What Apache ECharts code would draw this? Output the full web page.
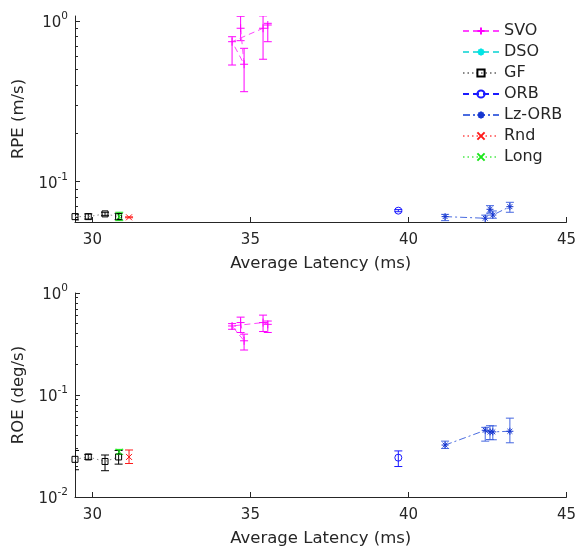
<!DOCTYPE html>
<html><head><meta charset="utf-8">
<script src="https://cdn.jsdelivr.net/npm/echarts@6/dist/echarts.min.js"></script>
<style>html,body{margin:0;padding:0;background:#fff}#c{width:579px;height:548px}</style>
</head><body><div id="c"></div>
<script>
// ---------- data ----------
const xTicks = [30, 35, 40, 45];
const yMajorTop = [0.1, 1];
const yMinorTop = [0.06, 0.07, 0.08, 0.09, 0.2, 0.3, 0.4, 0.5, 0.6, 0.7, 0.8, 0.9];
const yMajorBottom = [0.01, 0.1, 1];
const yMinorBottom = [0.02, 0.03, 0.04, 0.05, 0.06, 0.07, 0.08, 0.09, 0.2, 0.3, 0.4, 0.5, 0.6, 0.7, 0.8, 0.9];

const methods = ['SVO', 'DSO', 'GF', 'ORB', 'Lz-ORB', 'Rnd', 'Long'];

const svoLatency = [34.69, 34.80, 34.42, 35.40, 35.55];
const svoRPE     = [0.901, 0.538, 0.743, 0.901, 0.944];
const svoRPELow  = [0.754, 0.363, 0.532, 0.578, 0.743];
const svoRPEHigh = [1.07, 0.676, 0.798, 1.075, 0.967];
const svoROE     = [0.513, 0.340, 0.475, 0.513, 0.493];
const svoROELow  = [0.410, 0.276, 0.441, 0.419, 0.410];
const svoROEHigh = [0.580, 0.395, 0.501, 0.607, 0.531];

const dsoLatency = [];
const dsoRPE = [], dsoRPELow = [], dsoRPEHigh = [];
const dsoROE = [], dsoROELow = [], dsoROEHigh = [];

const gfLatency = [29.45, 29.87, 30.40, 30.83];
const gfRPE     = [0.0606, 0.0606, 0.0630, 0.0606];
const gfRPELow  = [0.0578, 0.0585, 0.0614, 0.0580];
const gfRPEHigh = [0.0628, 0.0630, 0.0645, 0.0635];
const gfROE     = [0.0234, 0.0247, 0.0223, 0.0247];
const gfROELow  = [0.0185, 0.0234, 0.0181, 0.0210];
const gfROEHigh = [0.0286, 0.0262, 0.0258, 0.0286];

const orbLatency = [39.68];
const orbRPE     = [0.0660];
const orbRPELow  = [0.0650];
const orbRPEHigh = [0.0670];
const orbROE     = [0.0243];
const orbROELow  = [0.0199];
const orbROEHigh = [0.0283];

const lzLatency = [41.16, 42.43, 42.58, 42.67, 43.21];
const lzRPE     = [0.0606, 0.0592, 0.0673, 0.0620, 0.0699];
const lzRPELow  = [0.0572, 0.0556, 0.0637, 0.0592, 0.0645];
const lzRPEHigh = [0.0626, 0.0619, 0.0709, 0.0657, 0.0744];
const lzROE     = [0.0323, 0.0451, 0.0435, 0.0435, 0.0441];
const lzROELow  = [0.0299, 0.0353, 0.0366, 0.0364, 0.0340];
const lzROEHigh = [0.0353, 0.0482, 0.0500, 0.0498, 0.0593];

const rndLatency = [31.16];
const rndRPE     = [0.0600];
const rndRPELow  = [0.0596];
const rndRPEHigh = [0.0604];
const rndROE     = [0.0247];
const rndROELow  = [0.0213];
const rndROEHigh = [0.0289];

const longLatency = [30.85];
const longRPE     = [0.0606];
const longRPELow  = [0.0572];
const longRPEHigh = [0.0645];
const longROE     = [0.0278];
const longROELow  = [0.0262];
const longROEHigh = [0.0293];

// ---------- styling ----------
const FONT = 'DejaVu Sans';
const TXT = '#262626';
const SYM_PLUS = 'path://M5,0L5,10M0,5L10,5';
const SYM_STAR = 'path://M5,0L5,10M0,5L10,5M1.5,1.5L8.5,8.5M8.5,1.5L1.5,8.5';
const SYM_X = 'path://M0,0L10,10M10,0L0,10';

const styles = {
  'SVO':    {color: '#ff00ff', line: '#ff44ff', dash: [6, 4], sym: SYM_PLUS, size: 8},
  'DSO':    {color: '#00e5e5', line: '#44dddd', dash: [6, 4], sym: SYM_STAR, size: 8},
  'GF':     {color: '#000000', line: '#888888', dash: [1.5, 3], sym: 'rect', size: 6},
  'ORB':    {color: '#1a1aff', line: '#1a1aff', dash: [6, 4], sym: 'circle', size: 7},
  'Lz-ORB': {color: '#1636d0', line: '#4a6ce0', dash: [7, 3, 2, 3], sym: SYM_STAR, size: 7, err: '#4466e0'},
  'Rnd':    {color: '#ff1a1a', line: '#ff7777', dash: [1.5, 3], sym: SYM_X, size: 6},
  'Long':   {color: '#1ae61a', line: '#77ee77', dash: [1.5, 3], sym: SYM_X, size: 6}
};

const topData = {
  'SVO': [svoLatency, svoRPE, svoRPELow, svoRPEHigh],
  'DSO': [dsoLatency, dsoRPE, dsoRPELow, dsoRPEHigh],
  'GF': [gfLatency, gfRPE, gfRPELow, gfRPEHigh],
  'ORB': [orbLatency, orbRPE, orbRPELow, orbRPEHigh],
  'Lz-ORB': [lzLatency, lzRPE, lzRPELow, lzRPEHigh],
  'Rnd': [rndLatency, rndRPE, rndRPELow, rndRPEHigh],
  'Long': [longLatency, longRPE, longRPELow, longRPEHigh]
};
const bottomData = {
  'SVO': [svoLatency, svoROE, svoROELow, svoROEHigh],
  'DSO': [dsoLatency, dsoROE, dsoROELow, dsoROEHigh],
  'GF': [gfLatency, gfROE, gfROELow, gfROEHigh],
  'ORB': [orbLatency, orbROE, orbROELow, orbROEHigh],
  'Lz-ORB': [lzLatency, lzROE, lzROELow, lzROEHigh],
  'Rnd': [rndLatency, rndROE, rndROELow, rndROEHigh],
  'Long': [longLatency, longROE, longROELow, longROEHigh]
};

function errRender(color) {
  return function (params, api) {
    const x = api.value(0), lo = api.value(1), hi = api.value(2);
    const a = api.coord([x, hi]), b = api.coord([x, lo]);
    const w = 4;
    const st = {stroke: color, lineWidth: 1};
    return {type: 'group', children: [
      {type: 'line', shape: {x1: a[0], y1: a[1], x2: b[0], y2: b[1]}, style: st},
      {type: 'line', shape: {x1: a[0] - w, y1: a[1], x2: a[0] + w, y2: a[1]}, style: st},
      {type: 'line', shape: {x1: b[0] - w, y1: b[1], x2: b[0] + w, y2: b[1]}, style: st}
    ]};
  };
}

const series = [];
[[topData, 0, 0], [bottomData, 1, 2]].forEach(([set, xi, yi]) => {
  methods.forEach(m => {
    const s = styles[m];
    const [xs, ys, lo, hi] = set[m];
    series.push({
      type: 'custom', name: m + '_err', xAxisIndex: xi, yAxisIndex: yi,
      renderItem: errRender(s.err || s.color), clip: true, silent: true,
      encode: {x: 0, y: [1, 2]},
      data: xs.map((x, i) => [x, lo[i], hi[i]]), z: 3
    });
  });
  methods.forEach(m => {
    const s = styles[m];
    const [xs, ys] = set[m];
    series.push({
      type: 'line', name: m, xAxisIndex: xi, yAxisIndex: yi,
      data: xs.map((x, i) => [x, ys[i]]),
      symbol: s.sym, symbolSize: s.size, showSymbol: true, clip: false,
      itemStyle: {color: 'transparent', borderColor: s.color, borderWidth: 1},
      lineStyle: {color: s.line, width: 1, type: s.dash},
      emphasis: {disabled: true}, z: 4
    });
  });
});

function supFmt(v) {
  const e = Math.round(Math.log10(v));
  return '{b|10}{s|' + e + '}';
}
const rich = {
  b: {fontSize: 15, fontFamily: FONT, color: TXT, lineHeight: 20, verticalAlign: 'bottom'},
  s: {fontSize: 10.5, fontFamily: FONT, color: TXT, lineHeight: 12, verticalAlign: 'top'}
};

function xAxis(gi) {
  return {
    type: 'value', gridIndex: gi, min: 29.45, max: 45,
    name: 'Average Latency (ms)', nameLocation: 'middle', nameGap: 33,
    nameTextStyle: {fontSize: 16.5, fontFamily: FONT, color: TXT},
    axisLine: {show: true, lineStyle: {color: TXT, width: 1}},
    axisTick: {show: true, inside: true, length: 5, customValues: xTicks, lineStyle: {color: TXT}},
    axisLabel: {customValues: xTicks, fontSize: 15, fontFamily: FONT, color: TXT, margin: 11},
    splitLine: {show: false}
  };
}
function yMain(gi, min, max, major, name) {
  return {
    type: 'log', logBase: 10, gridIndex: gi, min: min, max: max, position: 'left',
    name: name, nameLocation: 'middle', nameGap: 38,
    nameTextStyle: {fontSize: 16.5, fontFamily: FONT, color: TXT},
    axisLine: {show: true, lineStyle: {color: TXT, width: 1}},
    axisTick: {show: true, inside: true, length: 5, customValues: major, lineStyle: {color: TXT}},
    axisLabel: {customValues: major, formatter: supFmt, rich: rich, margin: 7},
    splitLine: {show: false}
  };
}
function yMinor(gi, min, max, minor) {
  return {
    type: 'log', logBase: 10, gridIndex: gi, min: min, max: max, position: 'left', offset: 0,
    axisLine: {show: false},
    axisTick: {show: true, inside: true, length: 3, customValues: minor, lineStyle: {color: TXT}},
    axisLabel: {show: false},
    splitLine: {show: false}
  };
}

const option = {
  animation: false,
  backgroundColor: '#fff',
  textStyle: {fontFamily: FONT},
  grid: [
    {left: 75, right: 12, top: 16, height: 206},
    {left: 75, right: 12, top: 293, height: 207}
  ],
  xAxis: [xAxis(0), xAxis(1)],
  yAxis: [
    yMain(0, 0.0561, 1.074, yMajorTop, 'RPE (m/s)'),
    yMinor(0, 0.0561, 1.074, yMinorTop),
    yMain(1, 0.01, 1, yMajorBottom, 'ROE (deg/s)'),
    yMinor(1, 0.01, 1, yMinorBottom)
  ],
  legend: {
    data: methods, orient: 'vertical', left: 462, top: 23, padding: 0,
    itemWidth: 36, itemHeight: 9, itemGap: 5,
    textStyle: {fontSize: 16, fontFamily: FONT, color: TXT},
    selectedMode: false
  },
  series: series
};

const chart = echarts.init(document.getElementById('c'), null, {renderer: 'canvas'});
chart.setOption(option);
</script></body></html>
